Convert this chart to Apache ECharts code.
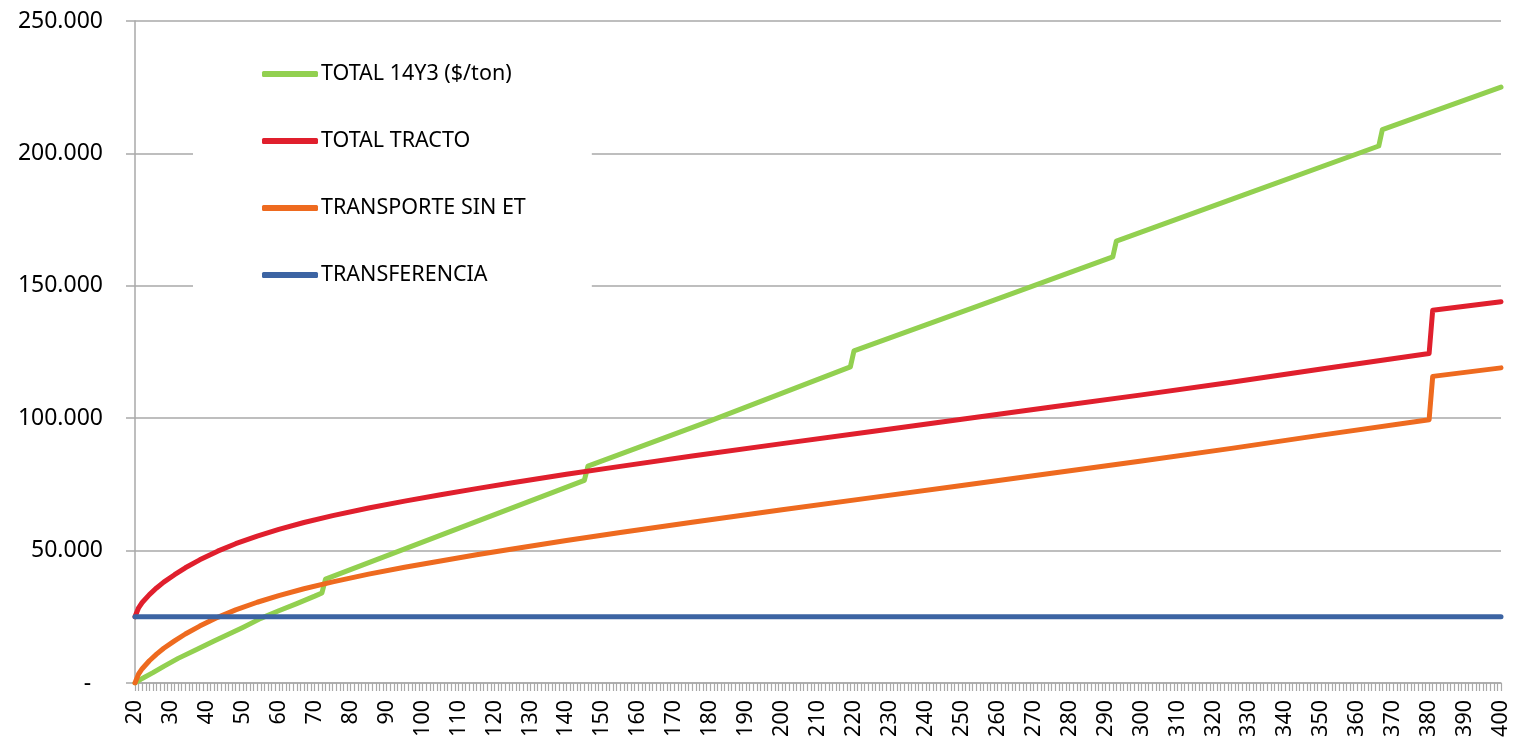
<!DOCTYPE html>
<html>
<head>
<meta charset="utf-8">
<script src="https://cdn.jsdelivr.net/npm/echarts@6/dist/echarts.min.js"></script>
<style>
  html, body { margin: 0; padding: 0; background: #ffffff; }
  #chart { width: 1517px; height: 743px; }
</style>
</head>
<body>
<div id="chart"></div>
<script>
// ---- data (x = category 20..400, y = $/ton) ----
const seriesNames = ['TOTAL 14Y3 ($/ton)', 'TOTAL TRACTO', 'TRANSPORTE SIN ET', 'TRANSFERENCIA'];

const total14y3 = [
  [20, 0], [22, 1700], [25, 3900], [28, 6300], [32, 9300], [37, 12600], [42, 15900],
  [46, 18400], [50, 21000], [55, 24400], [60, 27300], [65, 30000], [70, 32800], [72, 34000],
  [73, 39200], [110, 58400], [145, 76500],
  [146, 81900], [180, 99000], [219, 119400],
  [220, 125400], [255, 142600], [292, 160900],
  [293, 166900], [330, 185100], [366, 202800],
  [367, 209000], [400, 225000]
];

const totalTracto = [
  [20, 25000], [21, 28400], [22, 30400], [24, 33400], [26, 35900], [28, 38100], [31, 40900],
  [34, 43500], [38, 46500], [43, 49800], [48, 52600], [54, 55500], [60, 58000], [67, 60600],
  [75, 63200], [85, 66100], [95, 68700], [105, 71100], [115, 73400], [125, 75600],
  [140, 78800], [155, 81800], [175, 85700], [200, 90400], [225, 95000], [250, 99600],
  [275, 104200], [300, 108800], [325, 113600], [350, 118600], [380, 124400],
  [381, 140800], [400, 144000]
];

const transporteSinEt = [
  [20, 0], [21, 3400], [22, 5400], [24, 8400], [26, 10900], [28, 13100], [31, 15900],
  [34, 18500], [38, 21500], [43, 24800], [48, 27600], [54, 30500], [60, 33000], [67, 35600],
  [75, 38200], [85, 41100], [95, 43700], [105, 46100], [115, 48400], [125, 50600],
  [140, 53800], [155, 56800], [175, 60700], [200, 65400], [225, 70000], [250, 74600],
  [275, 79200], [300, 83800], [325, 88600], [350, 93600], [380, 99400],
  [381, 115800], [400, 119000]
];

const transferencia = [[20, 25000], [400, 25000]];

const colors = ['#92D050', '#E01F2D', '#EE6A1F', '#3C64A3'];

const xMin = 20, xMax = 400, xStep = 10;
const yMin = 0, yMax = 250000, yStep = 50000;

// ---- chart ----
const chart = echarts.init(document.getElementById('chart'), null, { renderer: 'canvas' });
const FONT = '"Noto Sans", "Open Sans", sans-serif';
const GRAY = '#a9a9a9';

function fmtY(v) {
  if (v === 0) return '-  ';
  return String(v).replace(/\B(?=(\d{3})+(?!\d))/g, '.');
}

const seriesData = [total14y3, totalTracto, transporteSinEt, transferencia];

chart.setOption({
  animation: false,
  backgroundColor: '#ffffff',
  grid: { left: 135, right: 16, top: 21, bottom: 60, containLabel: false },
  legend: {
    orient: 'vertical',
    left: 193,
    top: 38,
    padding: [24, 66, 16, 69],
    backgroundColor: '#ffffff',
    icon: 'roundRect',
    itemWidth: 56,
    itemHeight: 6,
    itemGap: 43,
    data: seriesNames,
    textStyle: { fontFamily: FONT, fontSize: 21.5, color: '#000000', lineHeight: 24, padding: [0, 0, 0, -2] }
  },
  xAxis: {
    type: 'value',
    min: xMin, max: xMax, interval: xStep,
    axisLine: { show: true, lineStyle: { color: GRAY, width: 1.5 } },
    axisTick: { show: true, length: 8, lineStyle: { color: GRAY, width: 1.2 } },
    minorTick: { show: true, splitNumber: 10, length: 8, lineStyle: { color: GRAY, width: 1.2 } },
    splitLine: { show: false },
    axisLabel: {
      rotate: 90, margin: 17, fontFamily: FONT, fontSize: 21.5, color: '#000000',
      showMinLabel: true, showMaxLabel: true
    }
  },
  yAxis: {
    type: 'value',
    min: yMin, max: yMax, interval: yStep,
    axisLine: { show: true, lineStyle: { color: GRAY, width: 1.5 } },
    axisTick: { show: true, length: 9, lineStyle: { color: GRAY, width: 1.5 } },
    splitLine: { show: true, lineStyle: { color: GRAY, width: 1.5 } },
    axisLabel: { margin: 32, fontFamily: FONT, fontSize: 23, color: '#000000', formatter: fmtY }
  },
  series: seriesNames.map((name, i) => ({
    name: name,
    type: 'line',
    data: seriesData[i],
    showSymbol: false,
    symbol: 'none',
    smooth: false,
    itemStyle: { color: colors[i] },
    lineStyle: { color: colors[i], width: 5, cap: 'round', join: 'round' },
    z: 2 + i
  }))
});
</script>
</body>
</html>
